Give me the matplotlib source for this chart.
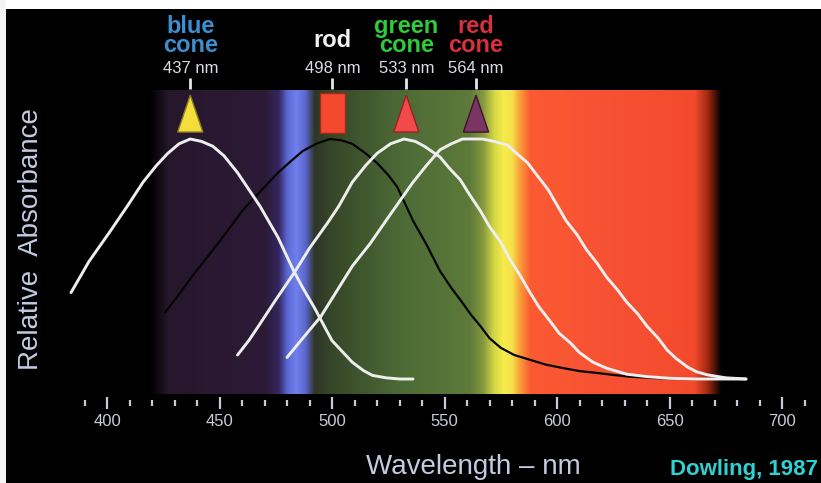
import numpy as np
import matplotlib
matplotlib.use("Agg")
import matplotlib.pyplot as plt
from matplotlib.patches import Polygon, Rectangle

plt.rcParams["font.family"] = ["Liberation Sans", "DejaVu Sans"]

# absorbance curves (wavelength nm, relative absorbance)
wl_blue = [384, 392, 401, 409, 416, 422, 427, 432, 437, 442, 447, 452, 458, 463, 468,
           476, 483, 487, 492, 496, 500, 505, 509, 514, 518, 524, 530, 536]
ab_blue = [0.36, 0.49, 0.61, 0.72, 0.82, 0.89, 0.94, 0.98, 1.0, 0.99, 0.97, 0.93, 0.86, 0.79, 0.72,
           0.59, 0.45, 0.38, 0.30, 0.23, 0.16, 0.11, 0.07, 0.035, 0.015, 0.005, 0.0, 0.0]

wl_rod = [426, 431, 438, 446, 453, 460, 468, 476, 482, 487, 493, 499, 504, 509, 515, 520,
          525, 529, 533, 536, 542, 548, 553, 557, 562, 566, 570, 575, 581, 588, 595, 603,
          610, 618, 625, 632, 643, 655, 668]
ab_rod = [0.28, 0.34, 0.43, 0.525, 0.61, 0.70, 0.78, 0.86, 0.91, 0.95, 0.98, 1.0, 0.995, 0.98, 0.94, 0.90,
          0.85, 0.80, 0.72, 0.66, 0.56, 0.45, 0.38, 0.33, 0.265, 0.22, 0.17, 0.13, 0.10, 0.08, 0.06, 0.045,
          0.033, 0.025, 0.017, 0.01, 0.004, 0.0, 0.0]

wl_green = [458, 463, 468, 475, 483, 490, 498, 503, 509, 515, 520, 526, 532, 537, 541, 548,
            552, 557, 561, 566, 570, 575, 579, 584, 588, 592, 597, 601, 606, 610, 616, 622,
            631, 640, 650, 662, 684]
ab_green = [0.10, 0.16, 0.23, 0.33, 0.44, 0.545, 0.65, 0.72, 0.82, 0.89, 0.94, 0.98, 1.0, 0.99, 0.97, 0.925,
            0.88, 0.83, 0.77, 0.70, 0.635, 0.57, 0.50, 0.425, 0.36, 0.30, 0.24, 0.19, 0.15, 0.11, 0.07, 0.045,
            0.02, 0.01, 0.003, 0.0, 0.0]

wl_red = [480, 487, 495, 502, 509, 517, 524, 530, 536, 542, 548, 553, 558, 563, 567, 572,
          578, 582, 587, 591, 596, 600, 604, 609, 613, 618, 622, 627, 631, 636, 640, 645,
          649, 653, 658, 662, 667, 675, 684]
ab_red = [0.09, 0.17, 0.26, 0.365, 0.47, 0.565, 0.66, 0.74, 0.82, 0.89, 0.955, 0.98, 1.0, 1.0, 1.0, 0.99,
          0.975, 0.94, 0.90, 0.85, 0.79, 0.725, 0.66, 0.60, 0.54, 0.48, 0.425, 0.37, 0.32, 0.27, 0.22, 0.17,
          0.12, 0.085, 0.05, 0.03, 0.017, 0.005, 0.0]

# pigment labels
names = ["blue\ncone", "rod", "green\ncone", "red\ncone"]
name_colors = ["#3b8fcf", "#f2f2f2", "#2fcb3a", "#d8303e"]
peaks = [437, 498, 533, 564]
marker_colors = ["#f3de3c", "#f5492f", "#f04a4a", "#7b3564"]
marker_edges = ["#8a7a20", "#a02a1a", "#9a2020", "#3a1428"]
marker_kind = ["tri", "rect", "tri", "tri"]

ticks_major = [400, 450, 500, 550, 600, 650, 700]
ticks_minor = list(range(390, 711, 10))

# spectrum colour stops (wavelength, colour)
spec_wl = [419, 427, 470, 476, 480, 484, 488, 492, 499, 530, 561, 567, 572, 576, 580, 583, 588, 619, 661, 667, 673]
spec_col = ["#000000", "#26172c", "#2d1a37", "#34265e", "#5c6ad8", "#7080ec", "#5a66cc", "#2e3528",
            "#364628", "#4c6a36", "#5d7a3a", "#86983e", "#d4d844", "#f6ec4a", "#f6e04a", "#f9a43a",
            "#fb5a32", "#f75234", "#f34a2c", "#a02810", "#000000"]

fig = plt.figure(figsize=(8.21, 4.83), dpi=100)
fig.patch.set_facecolor("black")
ax = fig.add_axes([0, 0, 1, 1])
ax.set_facecolor("black")
ax.set_xlim(352.44, 717.33)
ax.set_ylim(-0.4333, 1.5792)

# spectrum strip
xs = np.linspace(spec_wl[0] - 5, spec_wl[-1] + 5, 600)
rgb = np.array([matplotlib.colors.to_rgb(c) for c in spec_col])
strip = np.stack([np.interp(xs, spec_wl, rgb[:, k]) for k in range(3)], axis=-1)
ax.imshow(strip[np.newaxis, :, :], extent=[xs[0], xs[-1], -0.0625, 1.204],
          aspect="auto", interpolation="bilinear", zorder=0)

# curves
ax.plot(wl_blue, ab_blue, color="#eeeeee", lw=2.1, solid_capstyle="round", solid_joinstyle="round", zorder=3)
ax.plot(wl_rod, ab_rod, color="#050505", lw=1.6, solid_joinstyle="round", zorder=2)
ax.plot(wl_green, ab_green, color="#eeeeee", lw=2.1, solid_capstyle="round", solid_joinstyle="round", zorder=3)
ax.plot(wl_red, ab_red, color="#eeeeee", lw=2.1, solid_capstyle="round", solid_joinstyle="round", zorder=3)

# peak markers, small tick marks and labels
for i, p in enumerate(peaks):
    if marker_kind[i] == "tri":
        shape = Polygon([(p - 5.6, 1.029), (p + 5.6, 1.029), (p, 1.183)], closed=True,
                        fc=marker_colors[i], ec=marker_edges[i], lw=1.0, zorder=4)
        tx = p
    else:
        shape = Rectangle((p - 3.3, 1.025), 11, 0.167, fc=marker_colors[i],
                          ec=marker_edges[i], lw=1.0, zorder=4)
        tx = p + 2.2
    ax.add_patch(shape)
    ax.vlines(tx, 1.208, 1.254, color="#e6e6e6", lw=2.0)
    ax.text(tx, 1.275, f"{p} nm", color="#dcdce4", fontsize=12, ha="center", va="baseline")
    top = 1.517 if "\n" in names[i] else 1.46
    ax.text(tx, top, names[i], color=name_colors[i], fontsize=17, fontweight="bold",
            ha="center", va="top", linespacing=0.78)

# wavelength axis
for s in ["top", "left", "right"]:
    ax.spines[s].set_visible(False)
ax.spines["bottom"].set_position(("data", -0.102))
ax.spines["bottom"].set_color("none")
ax.set_xticks(ticks_major)
ax.set_xticks(ticks_minor, minor=True)
ax.set_yticks([])
ax.tick_params(axis="x", which="major", direction="inout", length=9, width=1.6,
               colors="#c8ccd8", labelsize=12, pad=3)
ax.tick_params(axis="x", which="minor", direction="inout", length=5, width=1.6, colors="#c8ccd8")

ax.text(562.7, -0.396, "Wavelength \u2013 nm", color="#c4cae0", fontsize=20,
        ha="center", va="baseline")
ax.text(715.8, -0.40, "Dowling, 1987", color="#2fd2d2", fontsize=16, fontweight="bold",
        ha="right", va="baseline")
ax.text(366.2, 0.583, "Relative  Absorbance", color="#c4cae0", fontsize=20, rotation=90,
        ha="center", va="center")

# white scan border on top and left
fig.patches.append(Rectangle((0, 1 - 9 / 483), 1, 9 / 483, transform=fig.transFigure,
                             fc="white", ec="none", zorder=10))
fig.patches.append(Rectangle((0, 0), 6 / 821, 1, transform=fig.transFigure,
                             fc="#f4f4f4", ec="none", zorder=10))

fig.savefig("out.png", dpi=100, facecolor="black")
